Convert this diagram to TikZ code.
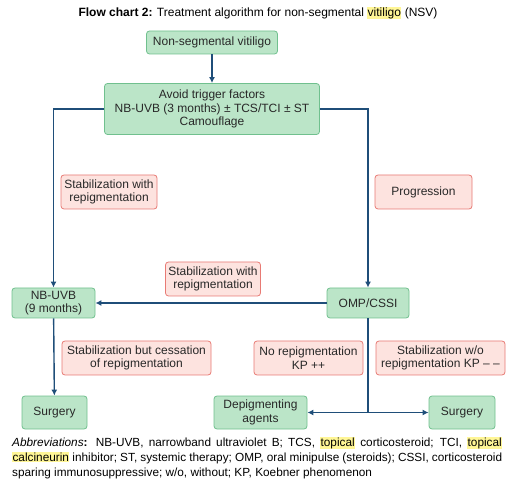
\documentclass[tikz,border=0pt]{standalone}
\usepackage{fontspec}
\setmainfont{Liberation Sans}
\usepackage{tikz}
\usetikzlibrary{arrows.meta}
\usepackage{xcolor}
\definecolor{boxgreen}{RGB}{187,229,200}
\definecolor{edgegreen}{RGB}{112,192,142}
\definecolor{boxred}{RGB}{253,227,223}
\definecolor{edgered}{RGB}{232,122,116}
\definecolor{flowblue}{RGB}{31,78,121}
\definecolor{hlyellow}{RGB}{255,246,150}
\definecolor{txtgray}{RGB}{40,40,40}
\newcommand{\hlword}[1]{{\setlength{\fboxsep}{0.4pt}\colorbox{hlyellow}{#1}}}

\begin{document}
\begin{tikzpicture}[x=1pt,y=-1pt,font=\fontsize{12}{13.5}\selectfont,
  greenbox/.style={draw=edgegreen,fill=boxgreen,rounded corners=3pt,align=center,text=txtgray,inner sep=1pt,line width=0.8pt},
  redbox/.style={draw=edgered,fill=boxred,rounded corners=3pt,align=center,text=txtgray,inner sep=1pt,line width=0.8pt,minimum height=34pt},
  flow/.style={draw=flowblue,line width=1.4pt,-{Latex[length=6pt,width=6pt]}},
  link/.style={draw=flowblue,line width=1.4pt}]
  \useasboundingbox (0,0) rectangle (520,489);
  \node (title) at (258,13) {\textbf{Flow chart 2:} Treatment algorithm for non-segmental \hlword{vitiligo} (NSV)};

  \node[greenbox,minimum width=131pt,minimum height=23pt] (nsv) at (212,42.5) {Non-segmental vitiligo};
  \node[greenbox,minimum width=215pt,minimum height=51pt] (avoid) at (212,109) {Avoid trigger factors\\NB-UVB (3 months) ± TCS/TCI ± ST\\Camouflage};
  \node[greenbox,minimum width=83pt,minimum height=30pt] (nb9) at (53.5,303) {NB-UVB\\(9 months)};
  \node[greenbox,minimum width=82pt,minimum height=30pt] (omp) at (368,303) {OMP/CSSI};
  \node[greenbox,minimum width=65pt,minimum height=33pt] (surgL) at (54.5,412.5) {Surgery};
  \node[greenbox,minimum width=93pt,minimum height=33pt] (depig) at (260.5,412.5) {Depigmenting\\agents};
  \node[greenbox,minimum width=66pt,minimum height=33pt] (surgR) at (462,412.5) {Surgery};

  \node[redbox,minimum width=96pt] (stabL) at (109,192) {Stabilization with\\repigmentation};
  \node[redbox,minimum width=97pt] (progr) at (423.5,192) {Progression};
  \node[redbox,minimum width=95pt] (stabM) at (213,279) {Stabilization with\\repigmentation};
  \node[redbox,minimum width=149pt] (cess) at (136.5,358) {Stabilization but cessation\\of repigmentation};
  \node[redbox,minimum width=109pt] (norep) at (308.5,358) {No repigmentation\\KP ++};
  \node[redbox,minimum width=129pt] (worep) at (440.5,358) {Stabilization w/o\\repigmentation KP – –};

  \coordinate (split) at (368,412.5);
  \draw[flow] (nsv) -- (avoid);
  \draw[flow] (avoid.west) -| (nb9);
  \draw[flow] (avoid.east) -| (omp);
  \draw[flow] (omp) -- (nb9);
  \draw[flow] (nb9) -- (surgL);
  \draw[link] (omp) -- (split);
  \draw[flow] (split) -- (depig);
  \draw[flow] (split) -- (surgR);

  \node[anchor=north west,text width=490pt,align=justify,inner sep=0pt,
    font=\fontsize{11.8}{15}\selectfont] (abbr) at (12,437)
    {\textit{Abbreviations}\textbf{:} NB-UVB, narrowband ultraviolet B; TCS, \hlword{topical} corticosteroid; TCI, \hlword{topical}\linebreak
     \hlword{calcineurin} inhibitor; ST, systemic therapy; OMP, oral minipulse (steroids); CSSI, corticosteroid\linebreak
     sparing immunosuppressive; w/o, without; KP, Koebner phenomenon};
\end{tikzpicture}
\end{document}
